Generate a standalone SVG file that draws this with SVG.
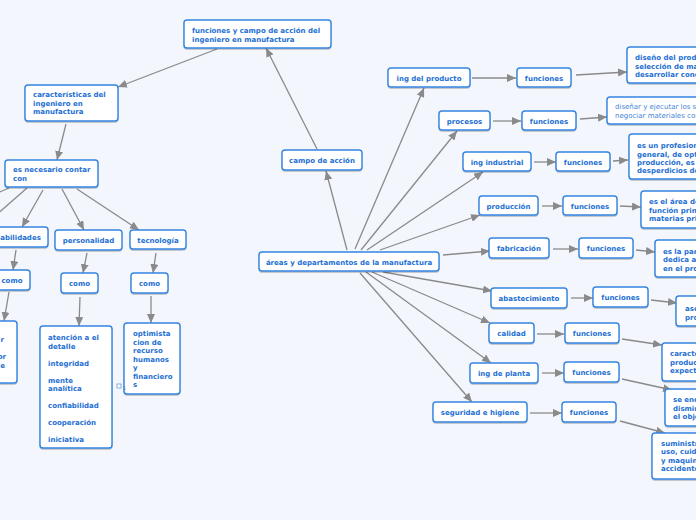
<svg xmlns="http://www.w3.org/2000/svg" width="696" height="520" viewBox="0 0 696 520">
<style>
.n{fill:#fff;stroke:#3484e0;stroke-width:1.4}
.t{font-family:"DejaVu Sans",Verdana,sans-serif;font-weight:bold;font-size:7px;fill:#1d6fd3}
.l{font-weight:normal;fill:#3f86d8}
.m{text-anchor:middle}
.c{fill:none;stroke:#8a8a8a;stroke-width:1.3}
</style>
<defs>
<marker id="a" markerUnits="userSpaceOnUse" markerWidth="10" markerHeight="8" refX="9" refY="4" orient="auto">
<path d="M0,0 L9,4 L0,8 z" fill="#8a8a8a"/>
</marker>
<filter id="s" x="-10%" y="-10%" width="120%" height="130%">
<feDropShadow dx="0" dy="1" stdDeviation="0.6" flood-color="#000" flood-opacity="0.25"/>
</filter>
</defs>
<rect width="696" height="520" fill="#f3f6fd"/>

<g id="connectors" class="c" marker-end="url(#a)">
<line x1="217" y1="49" x2="118" y2="87"/>
<line x1="317" y1="149" x2="266" y2="48"/>
<line x1="66" y1="124" x2="57" y2="160"/>
<line x1="347" y1="250" x2="326" y2="171"/>
<line x1="9" y1="188" x2="-12" y2="197" marker-end="none"/>
<line x1="27" y1="188" x2="-12" y2="222" marker-end="none"/>
<line x1="43" y1="190" x2="22" y2="227"/>
<line x1="62" y1="189" x2="84" y2="230"/>
<line x1="77" y1="189" x2="139" y2="230"/>
<line x1="16" y1="250" x2="13" y2="270"/>
<line x1="9" y1="292" x2="4" y2="321"/>
<line x1="87" y1="253" x2="83" y2="273"/>
<line x1="80" y1="297" x2="79" y2="326"/>
<line x1="156" y1="253" x2="153" y2="273"/>
<line x1="151" y1="296" x2="151" y2="323"/>
<line x1="355" y1="249" x2="424" y2="88"/>
<line x1="361" y1="250" x2="457" y2="131"/>
<line x1="367" y1="250" x2="483" y2="172"/>
<line x1="380" y1="250" x2="480" y2="215"/>
<line x1="443" y1="255" x2="490" y2="251"/>
<line x1="383" y1="272" x2="492" y2="291"/>
<line x1="372" y1="272" x2="490" y2="323"/>
<line x1="366" y1="272" x2="491" y2="363"/>
<line x1="360" y1="273" x2="472" y2="402"/>
<line x1="472" y1="78" x2="516" y2="78"/>
<line x1="576" y1="75" x2="627" y2="72"/>
<line x1="493" y1="121" x2="521" y2="121"/>
<line x1="580" y1="119" x2="607" y2="117"/>
<line x1="534" y1="162" x2="556" y2="162"/>
<line x1="613" y1="161" x2="628" y2="160"/>
<line x1="542" y1="206" x2="562" y2="206"/>
<line x1="620" y1="206" x2="641" y2="207"/>
<line x1="553" y1="249" x2="578" y2="249"/>
<line x1="636" y1="250" x2="655" y2="252"/>
<line x1="571" y1="298" x2="593" y2="298"/>
<line x1="651" y1="300" x2="677" y2="303"/>
<line x1="537" y1="334" x2="564" y2="334"/>
<line x1="622" y1="339" x2="662" y2="345"/>
<line x1="542" y1="373" x2="564" y2="373"/>
<line x1="622" y1="379" x2="672" y2="390"/>
<line x1="530" y1="413" x2="562" y2="413"/>
<line x1="620" y1="421" x2="665" y2="433"/>
</g>

<g id="n1"><rect class="n" filter="url(#s)" x="184" y="20" width="147" height="28" rx="3"/>
<text class="t" x="192" y="32.5">funciones y campo de acción del</text><text class="t" x="192" y="41.5">ingeniero en manufactura</text></g>
<g id="n2"><rect class="n" filter="url(#s)" x="25" y="85" width="93" height="36" rx="3"/>
<text class="t" x="33" y="96.5">características del</text><text class="t" x="33" y="105.5">ingeniero en</text><text class="t" x="33" y="113.5">manufactura</text></g>
<g id="n3"><rect class="n" filter="url(#s)" x="5" y="160" width="93" height="27" rx="3"/>
<text class="t" x="13" y="171.5">es necesario contar</text><text class="t" x="13" y="180.5">con</text></g>
<g id="n4"><rect class="n" filter="url(#s)" x="-14" y="227" width="62" height="20" rx="3"/>
<text class="t m" x="18" y="240">habilidades</text></g>
<g id="n5"><rect class="n" filter="url(#s)" x="-8" y="270" width="38" height="20" rx="3"/>
<text class="t m" x="12" y="283">como</text></g>
<g id="n6"><rect class="n" filter="url(#s)" x="-60" y="321" width="77" height="62" rx="3"/>
<text class="t" x="4" y="341.5" text-anchor="end">r</text><text class="t" x="6" y="358.5" text-anchor="end">or</text><text class="t" x="5" y="367.5" text-anchor="end">e</text></g>
<g id="n7"><rect class="n" filter="url(#s)" x="55" y="230" width="67" height="20" rx="3"/>
<text class="t m" x="88.5" y="243">personalidad</text></g>
<g id="n8"><rect class="n" filter="url(#s)" x="130" y="230" width="56" height="19" rx="3"/>
<text class="t m" x="158" y="242.5">tecnología</text></g>
<g id="n9"><rect class="n" filter="url(#s)" x="61" y="273" width="37" height="20" rx="3"/>
<text class="t m" x="79.5" y="286">como</text></g>
<g id="n10"><rect class="n" filter="url(#s)" x="131" y="273" width="37" height="20" rx="3"/>
<text class="t m" x="149.5" y="286">como</text></g>
<g id="n11"><rect class="n" filter="url(#s)" x="40" y="326" width="72" height="122" rx="3"/>
<text class="t" x="48" y="339.5">atención a el</text><text class="t" x="48" y="348.5">detalle</text>
<text class="t" x="48" y="365.5">integridad</text>
<text class="t" x="48" y="382.5">mente</text><text class="t" x="48" y="390.5">analítica</text>
<text class="t" x="48" y="407.5">confiabilidad</text>
<text class="t" x="48" y="424.5">cooperación</text>
<text class="t" x="48" y="441.5">iniciativa</text></g>
<g id="n12"><rect class="n" filter="url(#s)" x="124" y="323" width="56" height="71" rx="3"/>
<text class="t" x="133" y="335.5">optimista</text><text class="t" x="133" y="344.5">cion de</text><text class="t" x="133" y="353">recurso</text><text class="t" x="133" y="361.5">humanos</text><text class="t" x="133" y="370">y</text><text class="t" x="133" y="378.5">financiero</text><text class="t" x="133" y="386.5">s</text>
<rect x="117" y="384" width="4" height="4" fill="#fff" stroke="#5a8fd0" stroke-width="0.7"/>
<text x="123" y="390" font-family="DejaVu Sans,sans-serif" font-size="5" fill="#5a7fb0">1</text></g>

<g id="n13"><rect class="n" filter="url(#s)" x="282" y="150" width="80" height="20" rx="3"/>
<text class="t m" x="322" y="163">campo de acción</text></g>
<g id="n14"><rect class="n" filter="url(#s)" x="259" y="252" width="180" height="19" rx="3"/>
<text class="t m" x="349" y="264.5">áreas y departamentos de la manufactura</text></g>

<g id="n15"><rect class="n" filter="url(#s)" x="388" y="68" width="82" height="19" rx="3"/>
<text class="t m" x="429" y="80.5">ing del producto</text></g>
<g id="n16"><rect class="n" filter="url(#s)" x="517" y="68" width="54" height="19" rx="3"/>
<text class="t m" x="544" y="80.5">funciones</text></g>
<g id="n17"><rect class="n" filter="url(#s)" x="627" y="47" width="90" height="36" rx="3"/>
<text class="t" x="635" y="59.5">diseño del producto</text><text class="t" x="635" y="68.5">selección de ma</text><text class="t" x="635" y="76.5">desarrollar conce</text></g>

<g id="n18"><rect class="n" filter="url(#s)" x="439" y="111" width="51" height="19" rx="3"/>
<text class="t m" x="464.5" y="123.5">procesos</text></g>
<g id="n19"><rect class="n" filter="url(#s)" x="522" y="111" width="54" height="19" rx="3"/>
<text class="t m" x="549" y="123.5">funciones</text></g>
<g id="n20"><rect class="n" filter="url(#s)" x="607" y="97" width="110" height="27" rx="3"/>
<text class="t l" x="615" y="109">diseñar y ejecutar los s</text><text class="t l" x="615" y="117.5">negociar materiales con</text></g>

<g id="n21"><rect class="n" filter="url(#s)" x="463" y="152" width="68" height="19" rx="3"/>
<text class="t m" x="497" y="164.5">ing industrial</text></g>
<g id="n22"><rect class="n" filter="url(#s)" x="556" y="152" width="54" height="19" rx="3"/>
<text class="t m" x="583" y="164.5">funciones</text></g>
<g id="n23"><rect class="n" filter="url(#s)" x="629" y="134" width="90" height="45" rx="3"/>
<text class="t" x="637" y="147.5">es un profesional</text><text class="t" x="637" y="156.5">general, de opt</text><text class="t" x="637" y="164.5">producción, es l</text><text class="t" x="637" y="172.5">desperdicios de</text></g>

<g id="n24"><rect class="n" filter="url(#s)" x="479" y="196" width="59" height="19" rx="3"/>
<text class="t m" x="508.5" y="208.5">producción</text></g>
<g id="n25"><rect class="n" filter="url(#s)" x="563" y="196" width="54" height="19" rx="3"/>
<text class="t m" x="590" y="208.5">funciones</text></g>
<g id="n26"><rect class="n" filter="url(#s)" x="641" y="191" width="80" height="37" rx="3"/>
<text class="t" x="649" y="203.5">es el área de la</text><text class="t" x="649" y="212.5">función princ</text><text class="t" x="649" y="220.5">materias prim</text></g>

<g id="n27"><rect class="n" filter="url(#s)" x="489" y="238" width="60" height="20" rx="3"/>
<text class="t m" x="519" y="251">fabricación</text></g>
<g id="n28"><rect class="n" filter="url(#s)" x="579" y="238" width="54" height="20" rx="3"/>
<text class="t m" x="606" y="251">funciones</text></g>
<g id="n29"><rect class="n" filter="url(#s)" x="655" y="240" width="70" height="37" rx="3"/>
<text class="t" x="663" y="253.5">es la parte</text><text class="t" x="663" y="261.5">dedica a l</text><text class="t" x="663" y="270.5">en el proc</text></g>

<g id="n30"><rect class="n" filter="url(#s)" x="491" y="288" width="76" height="20" rx="3"/>
<text class="t m" x="529" y="301">abastecimiento</text></g>
<g id="n31"><rect class="n" filter="url(#s)" x="593" y="287" width="55" height="20" rx="3"/>
<text class="t m" x="620.5" y="300">funciones</text></g>
<g id="n32"><rect class="n" filter="url(#s)" x="676" y="296" width="50" height="30" rx="3"/>
<text class="t" x="685" y="310.5">ase</text><text class="t" x="685" y="319.5">pro</text></g>

<g id="n33"><rect class="n" filter="url(#s)" x="489" y="323" width="45" height="20" rx="3"/>
<text class="t m" x="511.5" y="336">calidad</text></g>
<g id="n34"><rect class="n" filter="url(#s)" x="565" y="323" width="54" height="20" rx="3"/>
<text class="t m" x="592" y="336">funciones</text></g>
<g id="n35"><rect class="n" filter="url(#s)" x="662" y="343" width="60" height="38" rx="3"/>
<text class="t" x="670" y="355.5">caracter</text><text class="t" x="670" y="364.5">producto</text><text class="t" x="670" y="372.5">expecta</text></g>

<g id="n36"><rect class="n" filter="url(#s)" x="470" y="363" width="68" height="20" rx="3"/>
<text class="t m" x="504" y="376">ing de planta</text></g>
<g id="n37"><rect class="n" filter="url(#s)" x="564" y="362" width="55" height="20" rx="3"/>
<text class="t m" x="591.5" y="375">funciones</text></g>
<g id="n38"><rect class="n" filter="url(#s)" x="665" y="389" width="60" height="37" rx="3"/>
<text class="t" x="673" y="401.5">se enc</text><text class="t" x="673" y="410.5">dismin</text><text class="t" x="673" y="418.5">el obje</text></g>

<g id="n39"><rect class="n" filter="url(#s)" x="433" y="402" width="94" height="20" rx="3"/>
<text class="t m" x="480" y="415">seguridad e higiene</text></g>
<g id="n40"><rect class="n" filter="url(#s)" x="562" y="402" width="54" height="20" rx="3"/>
<text class="t m" x="589" y="415">funciones</text></g>
<g id="n41"><rect class="n" filter="url(#s)" x="652" y="433" width="70" height="46" rx="3"/>
<text class="t" x="661" y="445.5">suministro</text><text class="t" x="661" y="453.5">uso, cuida</text><text class="t" x="661" y="462.5">y maquina</text><text class="t" x="661" y="470.5">accidentes</text></g>
</svg>
